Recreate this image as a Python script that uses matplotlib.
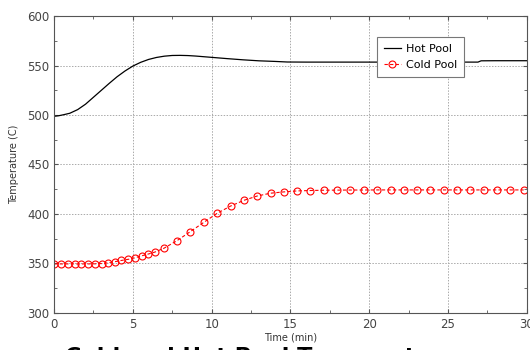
import numpy as np
import matplotlib.pyplot as plt
from matplotlib.ticker import MultipleLocator

# hot pool temperature (black line)
hot_t = [0, 0.3, 0.6, 1.0, 1.5, 2.0, 2.5, 3.0, 3.5, 4.0, 4.5, 5.0, 5.5, 6.0, 6.5,
         7.0, 7.5, 8.0, 8.5, 9.0, 10.0, 11.0, 12.0, 13.0, 14.0, 14.8, 16.0, 18.0,
         20.0, 22.0, 24.0, 26.0, 26.9, 27.1, 28.0, 30.0]
hot_T = [498.7, 499.3, 500.3, 501.8, 505.5, 511.0, 518.0, 525.0, 532.0, 538.7, 544.5,
         549.5, 553.3, 556.2, 558.2, 559.5, 560.2, 560.3, 560.1, 559.6, 558.3, 557.0,
         555.8, 554.8, 554.2, 553.6, 553.5, 553.5, 553.5, 553.5, 553.5, 553.5, 553.5,
         554.8, 554.9, 554.9]

# cold pool temperature (red circles)
cold_t = [0, 0.43, 0.87, 1.3, 1.73, 2.17, 2.6, 3.03, 3.42, 3.87, 4.27, 4.72, 5.12,
          5.56, 5.98, 6.4, 6.99, 7.8, 8.65, 9.51, 10.34, 11.2, 12.05, 12.9, 13.74,
          14.58, 15.43, 16.27, 17.12, 17.96, 18.81, 19.66, 20.5, 21.35, 22.19, 23.04,
          23.88, 24.73, 25.57, 26.42, 27.26, 28.11, 28.95, 29.8]
cold_T = [349.5, 349.5, 349.5, 349.5, 349.5, 349.5, 349.6, 349.9, 350.7, 351.8, 353.0,
          354.2, 355.6, 357.7, 359.5, 361.5, 365.5, 373.0, 382.2, 391.6, 400.6, 408.0,
          413.8, 418.2, 421.0, 422.3, 423.3, 423.7, 424.0, 424.1, 424.2, 424.2, 424.3,
          424.3, 424.3, 424.3, 424.3, 424.3, 424.3, 424.3, 424.3, 424.3, 424.3, 424.3]

fig = plt.figure(figsize=(5.3, 3.5), dpi=100)
ax = fig.add_axes([0.102, 0.106, 0.892, 0.848])

ax.plot(hot_t, hot_T, color='black', linewidth=0.9, label='Hot Pool')
ax.plot(cold_t, cold_T, color='red', linestyle=(0, (3, 2)), linewidth=0.8,
        marker='o', markersize=5, markerfacecolor='none', markeredgewidth=0.8,
        label='Cold Pool')

ax.set_xlim(0, 30)
ax.set_ylim(300, 600)
ax.xaxis.set_major_locator(MultipleLocator(5))
ax.xaxis.set_minor_locator(MultipleLocator(2.5))
ax.yaxis.set_major_locator(MultipleLocator(50))
ax.yaxis.set_minor_locator(MultipleLocator(25))
ax.tick_params(which='both', direction='in', top=True, right=True,
               colors='#555555', labelsize=8.5, labelcolor='#444444')
ax.tick_params(which='major', length=3)
ax.tick_params(which='minor', length=2)
ax.grid(True, which='major', linestyle=(0, (1.5, 1.5)), color='#aaaaaa', linewidth=0.7)
for s in ax.spines.values():
    s.set_color('#555555')

ax.set_xlabel('Time (min)', fontsize=7, color='#333333', labelpad=1)
ax.set_ylabel('Temperature (C)', fontsize=7, color='#333333', labelpad=6)

leg = ax.legend(loc='upper left', bbox_to_anchor=(0.684, 0.928), fontsize=8,
                fancybox=False, framealpha=1, edgecolor='#777777',
                handlelength=1.5, handletextpad=0.5, borderpad=0.6,
                labelspacing=0.55, borderaxespad=0)
leg.get_frame().set_linewidth(0.8)

# title sits below the axes and is cut off by the figure edge
fig.text(0.122, 0.008, 'Cold and Hot Pool Temperatures', fontsize=16,
         fontweight='bold', ha='left', va='top', color='black')

fig.savefig('out.png', dpi=100)
